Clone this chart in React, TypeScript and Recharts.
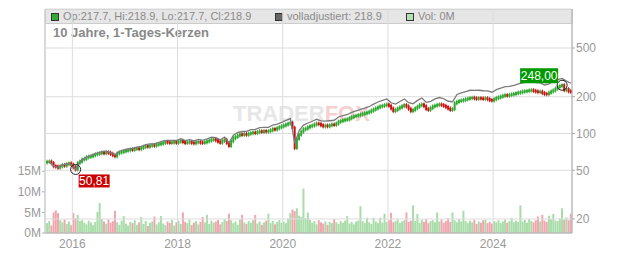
import React from 'react';
import {
  Bar,
  BarChart,
  CartesianGrid,
  Cell,
  ComposedChart,
  Line,
  ReferenceDot,
  XAxis,
  YAxis,
} from 'recharts';

// half-month periods, starting July 2015
const START_YEAR = 2015.5;
const PERIODS_PER_YEAR = 24;
const FIRST_OPEN = 58.0;

// close per half-month
const closes = [
  58.6, 58.9, 57.2, 54.1, 53.6, 52.6, 53.9, 55.1, 54.6, 56.2, 56.9, 55.6,
  53.0, 50.81, 57.4, 58.9, 61.2, 62.0, 63.8, 64.5, 65.1, 66.3, 67.6, 68.2,
  69.0, 69.8, 68.9, 70.1, 69.5, 68.2, 66.4, 65.2, 68.8, 69.9, 70.6, 71.5,
  72.3, 73.0, 74.2, 73.6, 74.8, 75.3, 74.6, 76.2, 77.5, 78.6, 78.1, 79.5,
  80.2, 79.6, 81.0, 81.8, 82.6, 83.9, 85.1, 84.6, 83.8, 84.4, 85.0, 84.1,
  85.8, 87.0, 85.2, 83.6, 84.5, 85.1, 84.0, 83.2, 84.6, 85.3, 84.2, 83.9,
  84.8, 86.2, 87.5, 88.9, 89.6, 88.0, 85.8, 84.1, 87.2, 88.6, 83.5, 79.2,
  86.4, 91.5, 93.8, 96.2, 98.4, 97.6, 98.9, 97.8, 99.5, 100.6, 101.8, 100.9,
  102.6, 104.1, 103.2, 104.6, 103.8, 104.5, 106.2, 108.9, 107.8, 110.4, 112.6, 114.3,
  116.2, 118.4, 120.5, 122.3, 111.5, 76.2, 90.4, 97.8, 103.6, 108.2, 109.6, 112.4,
  114.6, 116.1, 118.3, 120.4, 119.6, 116.8, 114.5, 115.9, 114.6, 116.7, 118.2, 117.6,
  120.5, 124.8, 126.4, 128.1, 129.6, 130.5, 133.2, 135.8, 138.4, 139.6, 141.2, 143.0,
  144.5, 146.2, 148.1, 150.6, 153.8, 157.2, 160.4, 163.5, 166.8, 168.2, 170.5, 172.4,
  168.5, 160.2, 152.6, 155.8, 160.1, 163.5, 167.2, 170.8, 166.4, 159.2, 152.4, 155.6,
  160.8, 165.4, 170.2, 172.6, 167.1, 158.6, 156.2, 161.5, 166.4, 168.8, 171.2, 172.5,
  171.0, 168.2, 164.5, 160.1, 156.0, 158.2, 176.5, 181.2, 184.6, 186.0, 187.8, 190.2,
  192.5, 194.8, 195.6, 193.9, 192.4, 194.1, 193.5, 192.0, 193.6, 191.2, 187.4, 186.2,
  190.5, 194.8, 197.2, 200.4, 203.1, 205.6, 204.2, 206.9, 208.4, 210.5, 213.2, 215.6,
  217.4, 219.8, 221.2, 222.6, 224.8, 225.4, 223.1, 220.5, 218.4, 219.6, 214.2, 210.6,
  209.8, 215.4, 220.6, 224.8, 232.5, 240.2, 244.6, 248.0, 226.2, 230.1, 221.5, 218.9,
];

// volladjustiert, one value per month (second half of each month)
const adjusted = [
  58.9, 54.2, 52.8, 55.3, 56.5, 55.9, 51.2, 59.4, 62.6, 65.2, 67.1, 69.1,
  71.2, 71.6, 69.7, 66.7, 71.6, 73.3, 74.9, 75.6, 77.5, 78.5, 81.1, 82.1,
  82.3, 84.7, 87.0, 87.8, 87.8, 87.6, 90.8, 87.4, 89.0, 87.1, 89.4, 88.0,
  90.5, 93.5, 92.7, 88.7, 93.6, 83.8, 97.0, 102.2, 103.8, 104.2, 107.4, 108.0,
  111.6, 112.3, 112.4, 117.3, 119.1, 123.4, 127.9, 132.2, 83.0, 105.8, 117.1, 121.8,
  125.9, 130.7, 126.9, 126.1, 127.1, 128.3, 136.4, 140.2, 143.0, 149.0, 153.4, 157.4,
  161.1, 166.2, 173.7, 180.9, 186.4, 191.5, 178.3, 173.7, 182.6, 191.3, 178.6, 175.0,
  186.4, 195.0, 179.6, 183.3, 192.0, 196.8, 192.4, 183.5, 181.7, 208.6, 214.5, 219.9,
  225.6, 225.0, 225.6, 223.6, 223.1, 217.6, 228.0, 234.9, 241.4, 243.2, 247.7, 254.0,
  259.2, 262.7, 266.2, 260.6, 259.7, 249.3, 255.0, 266.2, 276.0, 282.0, 268.0, 257.5,
];

// volume in millions per half-month
const volumes = [
  2.4, 2.9, 1.8, 5.0, 5.5, 4.8, 3.1, 2.6, 3.3, 2.2, 2.8, 1.9,
  4.8, 3.6, 4.4, 2.9, 3.2, 2.5, 2.1, 3.0, 2.6, 1.9, 2.7, 5.1,
  7.3, 3.4, 2.8, 2.2, 3.3, 2.5, 2.9, 5.4, 2.6, 2.0, 3.0, 4.1,
  2.3, 1.8, 2.7, 2.4, 3.1, 2.0, 2.6, 3.9, 2.2, 2.9, 1.7, 2.5,
  2.8, 4.0, 2.1, 2.6, 4.1, 2.3, 1.9, 2.8, 2.4, 3.2, 1.8, 2.6,
  3.0, 2.2, 5.0, 2.7, 2.4, 3.3, 1.9, 2.5, 2.9, 2.1, 2.7, 3.9,
  2.6, 4.4, 2.2, 3.0, 2.5, 2.8, 3.2, 2.1, 2.7, 3.4, 2.9, 4.7,
  3.1, 2.4, 2.8, 2.0, 3.3, 4.4, 2.6, 2.2, 2.9, 2.5, 3.1, 4.4,
  2.3, 2.8, 2.0, 2.6, 3.0, 4.7, 2.4, 2.9, 2.1, 2.7, 3.2, 2.5,
  2.8, 2.4, 3.5, 4.8, 5.7, 5.3, 6.0, 4.2, 3.9, 10.8, 3.6, 5.0,
  3.2, 2.5, 2.9, 2.1, 3.1, 2.6, 2.3, 2.8, 2.0, 2.7, 2.4, 3.4,
  2.6, 2.2, 2.9, 2.5, 3.0, 4.1, 2.3, 2.7, 2.1, 2.8, 3.0, 6.5,
  2.9, 2.4, 3.7, 2.6, 2.2, 3.7, 2.8, 2.4, 3.7, 2.5, 4.7, 2.7,
  3.1, 4.9, 2.6, 2.9, 3.3, 2.4, 2.8, 3.1, 5.0, 2.7, 3.0, 6.7,
  2.9, 4.6, 2.5, 3.2, 2.7, 3.4, 2.4, 2.9, 3.1, 2.6, 5.0, 2.8,
  3.3, 2.5, 2.9, 3.6, 2.7, 5.0, 3.1, 2.6, 3.4, 2.8, 5.4, 2.9,
  2.4, 3.0, 2.6, 3.2, 2.2, 2.8, 2.5, 3.1, 3.2, 2.4, 2.7, 2.3,
  2.9, 2.6, 3.1, 2.4, 2.8, 3.3, 2.5, 2.9, 3.7, 2.6, 3.0, 2.7,
  6.7, 2.8, 3.2, 2.5, 3.4, 2.9, 2.6, 3.1, 4.0, 2.8, 4.4, 3.0,
  2.7, 4.2, 3.3, 4.6, 3.0, 2.9, 3.5, 6.0, 3.2, 3.8, 3.1, 4.7,
];

const yearTicks = [2016, 2018, 2020, 2022, 2024];
const priceTicks = [20, 50, 100, 200, 500];
const volumeTicks = [0, 5, 10, 15];
const legendItems = [
  { label: 'Op:217.7, Hi:218.9, Lo:217.7, Cl:218.9', color: '#33aa33', left: 5 },
  { label: 'volladjustiert: 218.9', color: '#666666', left: 229 },
  { label: 'Vol: 0M', color: '#b4e0b4', left: 360 },
];

const W = 632;
const H = 253;
const TIME_DOMAIN = [2015.48, 2025.5];
const PRICE_DOMAIN = [15.36, 1042];
const VOLUME_DOMAIN = [0, 54.4];
const GREEN = '#2ea82e';
const RED = '#cc1111';
const AXIS = '#aaaaaa';
const TICK = { fill: '#999', fontSize: 12 };

const rows = closes.map((close, i) => {
  const open = i === 0 ? FIRST_OPEN : closes[i - 1];
  return {
    t: START_YEAR + (i + 0.5) / PERIODS_PER_YEAR,
    body: [Math.min(open, close), Math.max(open, close)],
    up: close >= open,
    close,
    adj: i % 2 === 1 ? adjusted[(i - 1) / 2] : null,
    vol: volumes[i],
  };
});

let minIdx = 0;
let maxIdx = 0;
closes.forEach((c, i) => {
  if (c < closes[minIdx]) minIdx = i;
  if (c > closes[maxIdx]) maxIdx = i;
});

const fmt = (v: number) => v.toFixed(2).replace('.', ',');

// body from previous close to close, padded so it reads like the dense daily candles
function Candle(props: any) {
  const { x, y, width, height, payload } = props;
  const h = Math.abs(height);
  const top = height < 0 ? y + height : y;
  const hh = h + 2.2;
  const fill = payload.up ? GREEN : RED;
  return (
    <g>
      <rect x={x} y={top - 1.1} width={width} height={hh} fill={fill} />
      <rect x={x + width / 2 - 0.4} y={top - 2.2} width={0.8} height={hh + 2.2} fill={fill} />
    </g>
  );
}

function MinMarker(props: any) {
  const { cx, cy } = props;
  return (
    <g>
      <circle cx={cx} cy={cy} r={5} fill="none" stroke="#222" strokeWidth={1} />
      <rect x={cx + 3} y={cy + 5} width={31} height={13} fill="#cc0000" />
      <text x={cx + 18.5} y={cy + 15.5} textAnchor="middle" fill="#fff" fontSize={12}>
        {fmt(closes[minIdx])}
      </text>
    </g>
  );
}

function MaxMarker(props: any) {
  const { cx, cy } = props;
  return (
    <g>
      <circle cx={cx} cy={cy} r={5} fill="none" stroke="#222" strokeWidth={1} />
      <rect x={cx - 42} y={cy - 17} width={38} height={15} fill="#009900" />
      <text x={cx - 23} y={cy - 5.5} textAnchor="middle" fill="#fff" fontSize={12}>
        {fmt(closes[maxIdx])}
      </text>
    </g>
  );
}

export default function App() {
  return (
    <div
      style={{
        position: 'absolute',
        left: 0,
        top: 0,
        width: W,
        height: H,
        background: '#fff',
        fontFamily: '"Liberation Sans", Arial, sans-serif',
      }}
    >
      {/* legend strip */}
      <div
        style={{
          position: 'absolute',
          left: 45,
          top: 9,
          width: 528,
          height: 15,
          boxSizing: 'border-box',
          background: '#e6e6e6',
          border: '1px solid #cccccc',
        }}
      >
        {legendItems.map((item) => (
          <div
            key={item.label}
            style={{ position: 'absolute', left: item.left, top: 0, height: 13, display: 'flex', alignItems: 'center' }}
          >
            <span
              style={{
                display: 'inline-block',
                width: 6,
                height: 6,
                background: item.color,
                border: '1px solid #333',
                marginRight: 4,
              }}
            />
            <span style={{ fontSize: 11, color: '#8a8a8a', lineHeight: '13px', whiteSpace: 'nowrap' }}>
              {item.label}
            </span>
          </div>
        ))}
      </div>
      <div
        style={{
          position: 'absolute',
          left: 53,
          top: 25,
          fontSize: 13,
          lineHeight: '15px',
          fontWeight: 'bold',
          color: '#888',
          whiteSpace: 'nowrap',
        }}
      >
        10 Jahre, 1-Tages-Kerzen
      </div>
      {/* watermark */}
      <div
        style={{
          position: 'absolute',
          left: 233,
          top: 102,
          fontSize: 22,
          lineHeight: '24px',
          fontWeight: 'bold',
          whiteSpace: 'nowrap',
        }}
      >
        <span style={{ color: '#e6e6e6' }}>TRADER</span>
        <span style={{ color: '#f6d0d0' }}>FOX</span>
      </div>

      {/* volume */}
      <div style={{ position: 'absolute', left: 0, top: 0 }}>
        <BarChart width={W} height={H} data={rows} margin={{ top: 9, right: 60, bottom: 20, left: 0 }}>
          <XAxis dataKey="t" type="number" domain={TIME_DOMAIN} allowDataOverflow hide />
          <YAxis
            domain={VOLUME_DOMAIN}
            ticks={volumeTicks}
            allowDataOverflow
            width={45}
            tickFormatter={(v) => `${v}M`}
            tick={TICK}
            tickSize={3}
            tickMargin={1}
            stroke={AXIS}
          />
          <Bar dataKey="vol" barSize={2} isAnimationActive={false}>
            {rows.map((r, i) => (
              <Cell key={`v-${i}`} fill={r.up ? '#a8dca8' : '#f0a6ae'} />
            ))}
          </Bar>
        </BarChart>
      </div>

      {/* price */}
      <div style={{ position: 'absolute', left: 0, top: 0 }}>
        <ComposedChart width={W} height={H} data={rows} margin={{ top: 9, right: 0, bottom: 0, left: 45 }}>
          <CartesianGrid stroke="#dddddd" />
          <XAxis
            dataKey="t"
            type="number"
            domain={TIME_DOMAIN}
            allowDataOverflow
            ticks={yearTicks}
            height={20}
            tick={TICK}
            tickLine={false}
            tickSize={3}
            tickMargin={3}
            stroke={AXIS}
          />
          <YAxis
            orientation="right"
            scale="log"
            domain={PRICE_DOMAIN}
            allowDataOverflow
            ticks={priceTicks}
            width={60}
            tick={TICK}
            tickSize={3}
            tickMargin={1}
            stroke={AXIS}
          />
          <Line
            dataKey="adj"
            connectNulls
            dot={false}
            stroke="#7a7a7a"
            strokeWidth={1.3}
            isAnimationActive={false}
          />
          <Bar dataKey="body" barSize={2.2} shape={<Candle />} isAnimationActive={false} />
          <ReferenceDot x={rows[minIdx].t} y={closes[minIdx]} r={5} shape={<MinMarker />} />
          <ReferenceDot x={rows[maxIdx].t} y={closes[maxIdx]} r={5} shape={<MaxMarker />} />
        </ComposedChart>
      </div>
    </div>
  );
}
